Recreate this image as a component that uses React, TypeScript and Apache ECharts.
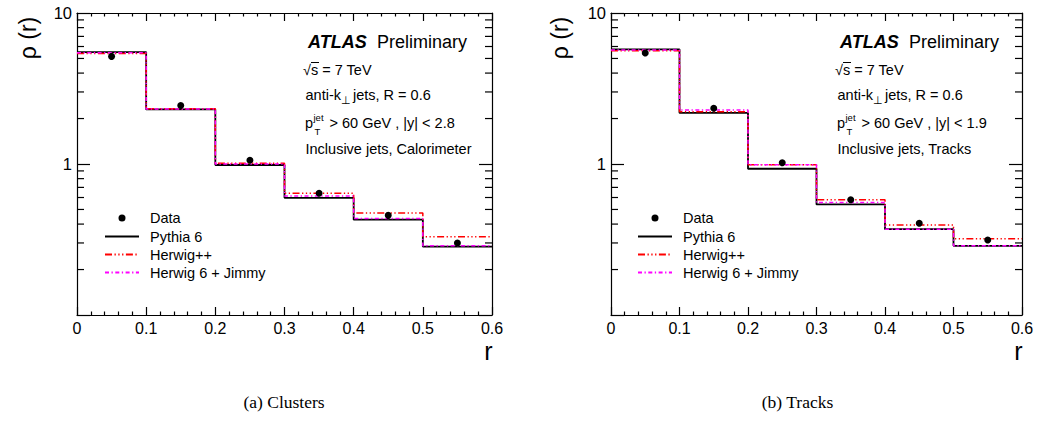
import { useEffect, useRef } from "react";
import * as echarts from "echarts";

// ---- data ----
const binEdges = [0, 0.1, 0.2, 0.3, 0.4, 0.5, 0.6];
const xTickLabels = ["0", "0.1", "0.2", "0.3", "0.4", "0.5", "0.6"];
const yTickLabels = ["10", "1"];
const yMinorTickValues = [0.2, 0.3, 0.4, 0.5, 0.6, 0.7, 0.8, 0.9, 2, 3, 4, 5, 6, 7, 8, 9];

const seriesNames = ["Data", "Pythia 6", "Herwig++", "Herwig 6 + Jimmy"];

// (a) Clusters
const dataClusters = [5.16, 2.44, 1.06, 0.64, 0.457, 0.3];
const pythiaClusters = [5.51, 2.3, 0.985, 0.597, 0.428, 0.284];
const herwigppClusters = [5.4, 2.32, 1.01, 0.641, 0.474, 0.33];
const herwig6Clusters = [5.45, 2.31, 1.0, 0.613, 0.436, 0.288];

// (b) Tracks
const dataTracks = [5.43, 2.34, 1.02, 0.58, 0.405, 0.314];
const pythiaTracks = [5.75, 2.18, 0.93, 0.54, 0.37, 0.287];
const herwigppTracks = [5.63, 2.22, 0.99, 0.58, 0.395, 0.32];
const herwig6Tracks = [5.68, 2.28, 0.99, 0.555, 0.37, 0.287];

const captions = ["(a) Clusters", "(b) Tracks"];
const selections = ["Inclusive jets, Calorimeter", "Inclusive jets, Tracks"];
const rapidityCuts = ["> 60 GeV , |y| < 2.8", "> 60 GeV , |y| < 1.9"];

const panels = [
  { data: dataClusters, pythia: pythiaClusters, herwigpp: herwigppClusters, herwig6: herwig6Clusters },
  { data: dataTracks, pythia: pythiaTracks, herwigpp: herwigppTracks, herwig6: herwig6Tracks },
];

const FONT = "'Liberation Sans', Arial, Helvetica, sans-serif";
const SERIF = "'Liberation Serif', 'Times New Roman', serif";

function stepData(vals: number[]) {
  return binEdges.map((e, i) => [e, vals[Math.min(i, vals.length - 1)]]);
}
function pointData(vals: number[]) {
  return vals.map((v, i) => [(binEdges[i] + binEdges[i + 1]) / 2, v]);
}

const dataIcon = "path://M0,0M34,16M13.5,8A3.5,3.5,0,1,1,20.5,8A3.5,3.5,0,1,1,13.5,8Z";

export default function App() {
  const ref = useRef<HTMLDivElement>(null);
  useEffect(() => {
    if (!ref.current) return;
    const chart = echarts.init(ref.current, undefined, { renderer: "svg" });

    const gridLeft = [77, 611];
    const gridWidth = [415, 411];
    const dx = [0, 532];

    const grids = [0, 1].map((p) => ({
      left: gridLeft[p],
      top: 13,
      width: gridWidth[p],
      height: 302,
      containLabel: false,
      outerBoundsMode: "none",
    }));

    const axisLine = { show: true, onZero: false, lineStyle: { color: "#000", width: 1.2 } };
    const xAxes: any[] = [];
    const yAxes: any[] = [];
    [0, 1].forEach((p) => {
      ["bottom", "top"].forEach((pos) => {
        xAxes.push({
          type: "value",
          gridIndex: p,
          position: pos,
          min: binEdges[0],
          max: binEdges[binEdges.length - 1],
          interval: 0.1,
          axisLine,
          axisTick: { show: true, inside: true, length: 8, lineStyle: { color: "#000", width: 1.2 } },
          minorTick: { show: true, splitNumber: 5, length: 3.5, lineStyle: { color: "#000", width: 1.2 } },
          splitLine: { show: false },
          minorSplitLine: { show: false },
          axisLabel: {
            show: pos === "bottom",
            margin: 5,
            color: "#000",
            fontSize: 16,
            fontFamily: FONT,
            formatter: (v: number) => xTickLabels[Math.round(v * 10)] ?? "",
          },
        });
      });
      ["left", "right"].forEach((pos) => {
        yAxes.push({
          type: "log",
          logBase: 10,
          gridIndex: p,
          position: pos,
          min: 0.1,
          max: 10,
          axisLine,
          axisTick: { show: true, inside: true, length: 13, lineStyle: { color: "#000", width: 1.2 } },
          minorTick: { show: false },
          splitLine: { show: false },
          axisLabel: {
            show: pos === "left",
            margin: 5,
            color: "#000",
            fontSize: 16.5,
            fontFamily: FONT,
            formatter: (v: number) =>
              Math.abs(v - 10) < 1e-6 ? yTickLabels[0] : Math.abs(v - 1) < 1e-6 ? yTickLabels[1] : "",
          },
        });
      });
    });

    const series: any[] = [];
    panels.forEach((pn, p) => {
      const xi = 2 * p;
      const yi = 2 * p;
      series.push({
        type: "line",
        name: seriesNames[1],
        xAxisIndex: xi,
        yAxisIndex: yi,
        data: stepData(pn.pythia),
        step: "end",
        symbol: "none",
        lineStyle: { color: "#000", width: 1.8 },
        itemStyle: { color: "#000" },
        z: 2,
        silent: true,
      });
      series.push({
        type: "line",
        name: seriesNames[2],
        xAxisIndex: xi,
        yAxisIndex: yi,
        data: stepData(pn.herwigpp),
        step: "end",
        symbol: "none",
        lineStyle: { color: "#ff0000", width: 1.5, type: [7, 2.5, 1.3, 2.5, 1.3, 2.5, 1.3, 2.5] },
        itemStyle: { color: "#ff0000" },
        z: 3,
        silent: true,
      });
      series.push({
        type: "line",
        name: seriesNames[3],
        xAxisIndex: xi,
        yAxisIndex: yi,
        data: stepData(pn.herwig6),
        step: "end",
        symbol: "none",
        lineStyle: { color: "#ff00ff", width: 1.5, type: [4, 2.5, 1.3, 2.5] },
        itemStyle: { color: "#ff00ff" },
        z: 4,
        silent: true,
      });
      series.push({
        type: "scatter",
        name: seriesNames[0],
        xAxisIndex: xi,
        yAxisIndex: yi,
        data: pointData(pn.data),
        symbol: "circle",
        symbolSize: 7,
        itemStyle: { color: "#000", opacity: 1 },
        z: 5,
        silent: true,
      });
      series.push({
        type: "custom",
        xAxisIndex: xi,
        yAxisIndex: yi,
        data: yMinorTickValues.map((v) => [binEdges[0], v]),
        encode: { x: 0, y: 1 },
        silent: true,
        z: 6,
        renderItem: (_params: any, api: any) => {
          const v = api.value(1);
          const l = api.coord([binEdges[0], v]);
          const r = api.coord([binEdges[binEdges.length - 1], v]);
          return {
            type: "group",
            children: [
              { type: "line", shape: { x1: l[0], y1: l[1], x2: l[0] + 7, y2: l[1] }, style: { stroke: "#000", lineWidth: 1.2 } },
              { type: "line", shape: { x1: r[0] - 7, y1: r[1], x2: r[0], y2: r[1] }, style: { stroke: "#000", lineWidth: 1.2 } },
            ],
          };
        },
      });
    });

    const legends = [0, 1].map((p) => ({
      orient: "vertical",
      left: 104 + dx[p] + (p ? 1 : 0),
      top: 210,
      padding: 0,
      itemWidth: 34,
      itemHeight: 16,
      itemGap: 3,
      selectedMode: false,
      textStyle: { fontSize: 14.5, fontFamily: FONT, color: "#000", padding: [0, 0, 0, 6] },
      data: seriesNames.map((n) =>
        n === "Data"
          ? { name: n, icon: dataIcon, itemStyle: { opacity: 1 } }
          : { name: n, itemStyle: { opacity: 0, color: "transparent", borderWidth: 0 } }
      ),
    }));

    const txt = (x: number, y: number, text: string, size: number, extra: any = {}) => ({
      type: "text",
      x,
      y,
      silent: true,
      style: {
        text,
        fill: "#000",
        fontSize: size,
        fontFamily: FONT,
        align: "left",
        verticalAlign: "middle",
        ...extra,
      },
    });

    const graphics: any[] = [];
    [0, 1].forEach((p) => {
      const o = dx[p];
      graphics.push(txt(308 + o, 41.5, "ATLAS", 18, { fontWeight: "bold", fontStyle: "italic" }));
      graphics.push(txt(377 + o, 41.5, "Preliminary", 18));
      graphics.push(txt(303 + o, 69.5, "√s = 7 TeV", 14.5));
      graphics.push({
        type: "line",
        silent: true,
        shape: { x1: 311 + o, y1: 62.5, x2: 319 + o, y2: 62.5 },
        style: { stroke: "#000", lineWidth: 1 },
      });
      graphics.push(txt(305.5 + o, 95, "anti-k", 14.5));
      graphics.push(txt(341 + o, 99.5, "⊥", 10.5));
      graphics.push(txt(353 + o, 95, "jets, R = 0.6", 14.5));
      graphics.push(txt(305 + o, 122.5, "p", 14.5));
      graphics.push(txt(313.5 + o, 117.5, "jet", 9.5));
      graphics.push(txt(314.5 + o, 131, "T", 9.5));
      graphics.push(txt(329.5 + o, 123, rapidityCuts[p], 14.5));
      graphics.push(txt(305.5 + o, 149, selections[p], 14.5));
      // axis titles
      graphics.push(
        txt(27.5 + (p ? 532.5 : 0), 38, "ρ (r)", 23, { align: "center", verticalAlign: "middle" })
      );
      graphics[graphics.length - 1].rotation = Math.PI / 2;
      graphics.push(
        txt(gridLeft[p] + gridWidth[p] + 0.5, 351, "r", 25, { align: "right", verticalAlign: "middle" })
      );
      // captions
      graphics.push({
        type: "text",
        x: p ? 797.5 : 284,
        y: 402,
        silent: true,
        style: {
          text: captions[p],
          fill: "#000",
          fontSize: 17.5,
          fontFamily: SERIF,
          align: "center",
          verticalAlign: "middle",
        },
      });
    });

    chart.setOption({
      animation: false,
      backgroundColor: "#ffffff",
      grid: grids,
      xAxis: xAxes,
      yAxis: yAxes,
      legend: legends,
      series,
      graphic: graphics,
    });

    return () => chart.dispose();
  }, []);

  return (
    <div
      ref={ref}
      style={{ position: "absolute", left: 0, top: 0, width: 1048, height: 442, background: "#fff" }}
    />
  );
}
